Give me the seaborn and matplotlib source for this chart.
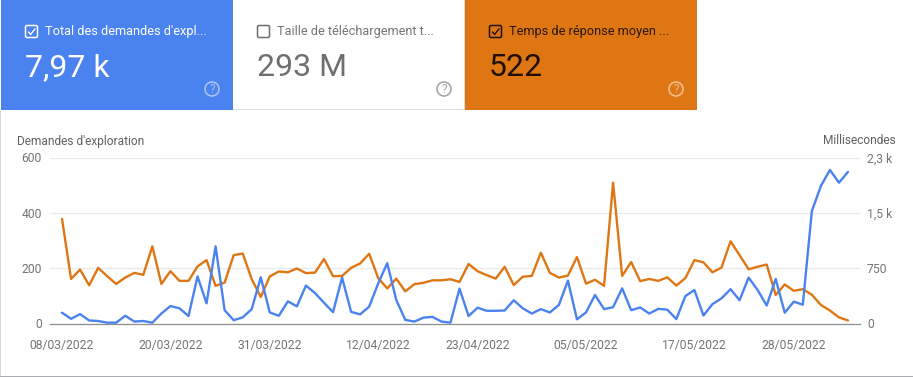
import pandas as pd
import seaborn as sns
import matplotlib.pyplot as plt
from matplotlib.patches import Rectangle, FancyBboxPatch, Circle

crawl_requests = [39, 17, 34, 11, 9, 3, 3, 28, 7, 9, 3, 36, 63, 55, 27, 170, 73, 279, 48, 12, 22, 52,
                  167, 40, 28, 80, 62, 137, 110, 75, 41, 166, 42, 33, 61, 145, 218, 85, 13, 7, 21, 24,
                  7, 3, 126, 27, 57, 46, 46, 47, 84, 55, 36, 52, 40, 67, 155, 15, 40, 103, 52, 59,
                  127, 48, 58, 36, 53, 50, 16, 99, 121, 29, 70, 91, 124, 84, 166, 121, 65, 161, 39,
                  79, 68, 406, 497, 555, 509, 548]
response_ms = [1418, 604, 731, 518, 754, 641, 536, 623, 686, 660, 1046, 536, 709, 578, 578, 773, 859,
               510, 555, 926, 949, 600, 360, 638, 705, 694, 746, 683, 690, 874, 641, 645, 754, 814,
               945, 615, 476, 608, 435, 533, 551, 585, 585, 600, 563, 806, 709, 656, 608, 769, 521,
               634, 645, 960, 686, 623, 649, 900, 540, 593, 510, 1910, 645, 833, 574, 604, 578, 626,
               514, 615, 859, 829, 694, 758, 1114, 926, 735, 769, 799, 386, 529, 443, 465, 390, 251,
               176, 83, 41]
date_labels = ['08/03/2022', '20/03/2022', '31/03/2022', '12/04/2022', '23/04/2022',
               '05/05/2022', '17/05/2022', '28/05/2022']
left_ticks = [0, 200, 400, 600]
right_ticks = [0, 750, 1500, 2250]
right_labels = ['0', '750', '1,5 k', '2,3 k']
tile_titles = ["Total des demandes d'expl...", 'Taille de téléchargement t...', 'Temps de réponse moyen ...']
tile_values = ['7,97 k', '293 M', '522']

BLUE = '#4a82ef'
ORANGE = '#df7614'
W, H = 913, 377

sns.set_theme(style='white')
plt.rcParams['font.family'] = ['Roboto', 'DejaVu Sans']

df = pd.DataFrame({
    'date': pd.date_range('2022-03-08', periods=len(crawl_requests)),
    'requests': crawl_requests,
    'ms': response_ms,
})

fig = plt.figure(figsize=(W / 100, H / 100), dpi=100, facecolor='white')

# page furniture in pixel coordinates
bg = fig.add_axes([0, 0, 1, 1], zorder=0)
bg.set_xlim(0, W)
bg.set_ylim(H, 0)
bg.axis('off')

bg.add_patch(Rectangle((0, 110), 1.2, 267, color='#d5d7e0', lw=0))
bg.add_patch(Rectangle((0, 375.6), W, 1.4, color='#a9abb0', lw=0))
bg.add_patch(Rectangle((233, 108.8), 232, 1.0, color='#dcdcdc', lw=0))
bg.add_patch(Rectangle((1, 0), 232, 110, color=BLUE, lw=0))
bg.add_patch(Rectangle((465, 0), 232, 110, color=ORANGE, lw=0))
bg.add_patch(Rectangle((464.2, 0), 0.9, 110, color='#dcdcdc', lw=0))

tile_x = [25, 257, 489]
title_col = ['#ffffff', '#757575', '#2b1603']
value_col = ['#ffffff', '#6f6f6f', '#1f1003']
box_col = ['#ffffff', '#6f6f6f', '#1f1003']
help_col = ['#a9c4f6', '#a8a8a8', '#f0bd8c']
for i in range(3):
    x = tile_x[i]
    bg.add_patch(FancyBboxPatch((x + 0.5, 25.5), 12, 12, boxstyle='round,pad=0,rounding_size=1.5',
                                fc='none', ec=box_col[i], lw=1.1))
    if i != 1:
        bg.plot([x + 3.5, x + 5.7, x + 10], [32, 34.5, 28.8], color=box_col[i], lw=1.0)
    bg.text(x + 20, 31.5, tile_titles[i], color=title_col[i], fontsize=9.2, va='center', ha='left')
    bg.text(x, 67.5, tile_values[i], color=value_col[i], fontsize=23, va='center', ha='left')
    bg.add_patch(Circle((x + 187, 89), 7, fc='none', ec=help_col[i], lw=1.2))
    bg.text(x + 187, 89.3, '?', color=help_col[i], fontsize=8.5, va='center', ha='center')

bg.text(17, 141, "Demandes d'exploration", color='#606060', fontsize=8.55, va='center', ha='left')
bg.text(896, 141, 'Millisecondes', color='#606060', fontsize=8.55, va='center', ha='right')

# chart
ax = fig.add_axes([50 / W, 1 - 323.5 / H, 810 / W, 166 / H], zorder=2)
ax.patch.set_alpha(0)
sns.lineplot(data=df, x='date', y='requests', color=BLUE, linewidth=1.7, ax=ax, zorder=3)
ax2 = ax.twinx()
ax2.patch.set_alpha(0)
sns.lineplot(data=df, x='date', y='ms', color=ORANGE, linewidth=1.7, ax=ax2, zorder=2)

ax.set_zorder(3)
ax2.set_zorder(2)
ax.set_ylim(0, 600)
ax2.set_ylim(0, 2250)
ax.set_xlim(df['date'][0] - pd.Timedelta(days=1.33), df['date'][0] + pd.Timedelta(days=88.33))
ax.set_xticks(pd.to_datetime(date_labels, format='%d/%m/%Y'))
ax.set_xticklabels(date_labels)
ax.set_yticks(left_ticks)
ax2.set_yticks(right_ticks)
ax2.set_yticklabels(right_labels)
ax.set_xlabel('')
ax.set_ylabel('')
ax2.set_ylabel('')
ax.grid(False)
ax2.grid(True, axis='y', color='#e9e9e9', lw=0.9)
ax2.set_axisbelow(True)
ax.tick_params(axis='x', length=0, pad=11, labelsize=8.75, labelcolor='#757575')
ax.tick_params(axis='y', length=0, pad=6, labelsize=8.75, labelcolor='#757575')
ax2.tick_params(axis='y', length=0, pad=5, labelsize=8.75, labelcolor='#757575')
for a in [ax, ax2]:
    for s in ['top', 'left', 'right']:
        a.spines[s].set_visible(False)
ax.spines['bottom'].set_color('#8f8f8f')
ax.spines['bottom'].set_linewidth(0.9)
ax2.spines['bottom'].set_visible(False)

fig.savefig('out.png', dpi=100)
